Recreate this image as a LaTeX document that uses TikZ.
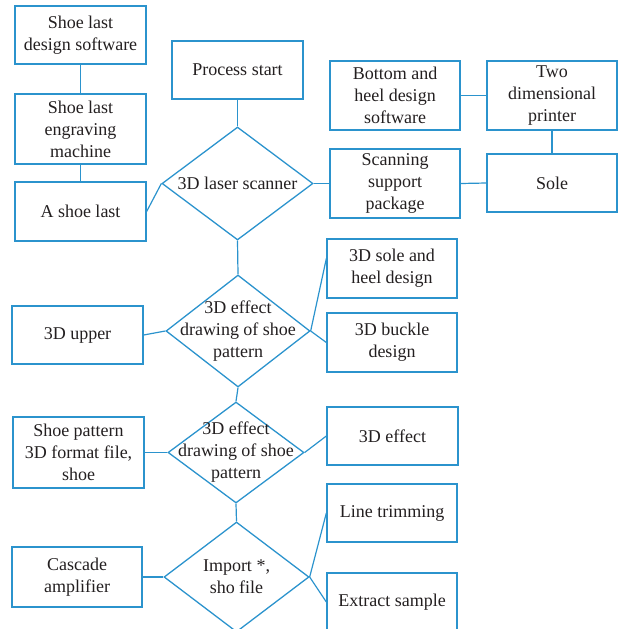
\documentclass[tikz,border=0pt]{standalone}
\usepackage{fontspec}
\setmainfont{Liberation Serif}
\usetikzlibrary{shapes.geometric}
\definecolor{lineblue}{HTML}{2B93CD}
\definecolor{txt}{HTML}{231F20}
\begin{document}
\begin{tikzpicture}[x=1pt,y=-1pt,
  box/.style={draw=lineblue, line width=1.3pt, rectangle, inner sep=0pt, align=center, text=txt, font=\fontsize{18}{22}\selectfont},
  bw/.style={minimum width=131pt},
  dia/.style={draw=lineblue, line width=1.3pt, diamond, inner sep=0pt},
  lbl/.style={align=center, text=txt, font=\fontsize{18}{22}\selectfont, inner sep=0pt},
  conn/.style={draw=lineblue, line width=1.2pt}]
\useasboundingbox (0,0) rectangle (619,629);
% left column
\node[box, bw, minimum height=58pt] (sls) at (80.5,35) {Shoe last\\design software};
\node[box, bw, minimum height=70pt] (sle) at (80.5,129) {Shoe last\\engraving\\machine};
\node[box, bw, minimum height=59pt] (asl) at (80.5,211.5) {A shoe last};
\node[box, bw, minimum height=58pt] (up) at (77.5,335) {3D upper};
\node[box, bw, minimum height=71pt] (spf) at (78.5,452.5) {Shoe pattern\\3D format file,\\shoe};
\node[box, minimum width=130pt, minimum height=60pt] (cas) at (77,577) {Cascade\\amplifier};
% centre column
\node[box, bw, minimum height=58pt] (ps) at (237.5,70) {Process start};
\node[dia, minimum width=151pt, minimum height=113pt, label={[lbl]center:3D laser scanner}] (d1) at (237.5,183.5) {};
\node[dia, minimum width=144pt, minimum height=112pt, label={[lbl]center:{3D effect\\drawing of shoe\\pattern}}] (d2) at (238,331) {};
\node[dia, minimum width=136pt, minimum height=101pt, label={[lbl]center:{3D effect\\drawing of shoe\\pattern}}] (d3) at (236,452.5) {};
\node[dia, minimum width=145pt, minimum height=110pt, label={[lbl]center:{Import *,\\sho file}}] (d4) at (236.5,577) {};
% right columns
\node[box, minimum width=130pt, minimum height=69pt] (bhd) at (395,95.5) {Bottom and\\heel design\\software};
\node[box, minimum width=130pt, minimum height=69pt] (tdp) at (552,95.5) {Two\\dimensional\\printer};
\node[box, minimum width=130pt, minimum height=69pt] (ssp) at (395,183.5) {Scanning\\support\\package};
\node[box, minimum width=130pt, minimum height=58pt] (sole) at (552,183) {Sole};
\node[box, minimum width=130pt, minimum height=59pt] (shd) at (392,268.5) {3D sole and\\heel design};
\node[box, minimum width=130pt, minimum height=59pt] (buk) at (392,342.5) {3D buckle\\design};
\node[box, bw, minimum height=58pt] (eff) at (392.5,436) {3D effect};
\node[box, minimum width=130pt, minimum height=58pt] (ltr) at (392,513) {Line trimming};
\node[box, minimum width=130pt, minimum height=58pt] (ext) at (392,602) {Extract sample};
% connectors
\draw[conn] (sls.south) -- (sle.north);
\draw[conn] (sle.south) -- (asl.north);
\draw[conn] (asl.east) -- (d1.west);
\draw[conn] (ps.south) -- (d1.north);
\draw[conn] (d1.east) -- (ssp.west);
\draw[conn] (bhd.east) -- (tdp.west);
\draw[conn] (tdp.south) -- (sole.north);
\draw[conn] (ssp.east) -- (sole.west);
\draw[conn] (d1.south) -- (d2.north);
\draw[conn] (up.east) -- (d2.west);
\draw[conn] (d2.east) -- ([yshift=10pt]shd.west);
\draw[conn] (d2.east) -- (buk.west);
\draw[conn] (d2.south) -- (d3.north);
\draw[conn] (spf.east) -- (d3.west);
\draw[conn] (d3.east) -- (eff.west);
\draw[conn] (d3.south) -- (d4.north);
\draw[conn] (cas.east) -- (d4.west);
\draw[conn] (d4.east) -- (ltr.west);
\draw[conn] (d4.east) -- (ext.west);
\end{tikzpicture}
\end{document}
